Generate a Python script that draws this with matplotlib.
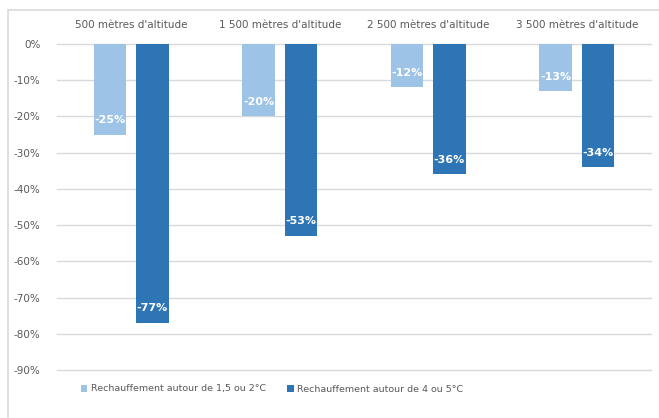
import matplotlib
matplotlib.use("Agg")
import matplotlib.pyplot as plt
from matplotlib.patches import Rectangle
import numpy as np

categories = ["500 mètres d'altitude", "1 500 mètres d'altitude", "2 500 mètres d'altitude", "3 500 mètres d'altitude"]
series_names = ["Rechauffement autour de 1,5 ou 2°C", "Rechauffement autour de 4 ou 5°C"]
warm_low = [-25, -20, -12, -13]
warm_high = [-77, -53, -36, -34]
yticks = [0, -10, -20, -30, -40, -50, -60, -70, -80, -90]

W, H = 659, 418
fig = plt.figure(figsize=(W/100, H/100), dpi=100)
plt.rcParams['font.family'] = ['DejaVu Sans']

# outer border (chart area frame)
fig.add_artist(Rectangle((8/W, -0.1), 1.2, 1 - 10/H + 0.1, transform=fig.transFigure,
                         fill=False, edgecolor='#d9d9d9', linewidth=1.2))

left, right, top, bottom = 57, 651, 44, 370
ax = fig.add_axes([left/W, 1 - bottom/H, (right-left)/W, (bottom-top)/H])

x = np.arange(len(categories))
bw = 0.22
off = 0.142
c1, c2 = '#9DC3E6', '#2E75B6'
b1 = ax.bar(x - off, warm_low, bw, color=c1, label=series_names[0], zorder=3)
b2 = ax.bar(x + off, warm_high, bw, color=c2, label=series_names[1], zorder=3)

for bars, vals in ((b1, warm_low), (b2, warm_high)):
    for rect, v in zip(bars, vals):
        ax.annotate(f"{v}%", (rect.get_x() + rect.get_width()/2, v), xytext=(0, 10.5),
                    textcoords='offset points', ha='center', va='center',
                    color='white', fontsize=8, fontweight='bold', zorder=4)

ax.set_xlim(-0.5, len(categories) - 0.5)
ax.set_ylim(-90, 0)
ax.set_yticks(yticks)
ax.set_yticklabels([f"{t}%" for t in yticks], fontsize=7.5, color='#595959')
for t in yticks:
    ax.axhline(t, color='#d9d9d9', linewidth=1, zorder=0, clip_on=False)
ax.tick_params(axis='y', length=0, pad=12)
ax.xaxis.tick_top()
ax.set_xticks(x)
ax.set_xticklabels(categories, fontsize=7.5, color='#595959')
ax.tick_params(axis='x', length=0, pad=10)
for s in ax.spines.values():
    s.set_visible(False)

fig.legend(handles=[b1, b2], labels=series_names, loc='center', bbox_to_anchor=(272/W, 1 - 389/H),
           ncol=2, frameon=False, fontsize=6.8, handlelength=0.7, handleheight=0.7,
           columnspacing=2.2, handletextpad=0.4, labelcolor='#595959')

fig.savefig("out.png", dpi=100)
